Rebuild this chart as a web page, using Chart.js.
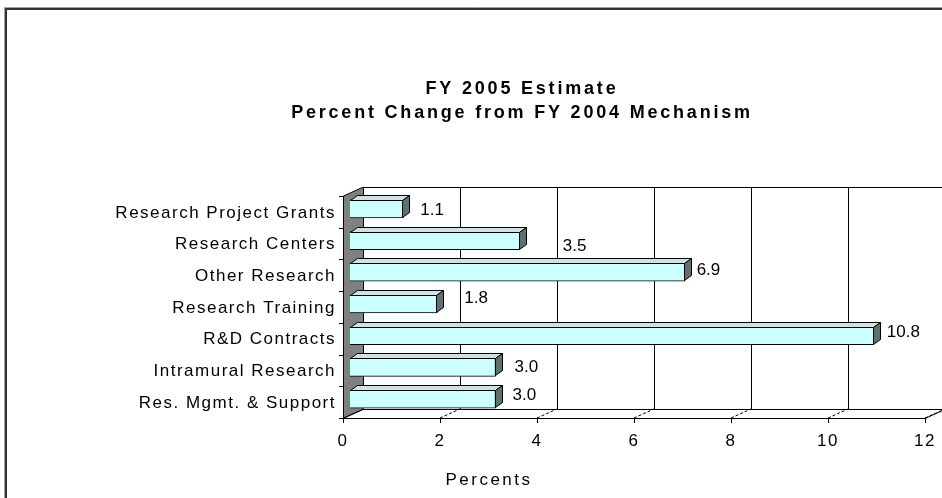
<!DOCTYPE html>
<html>
<head>
<meta charset="utf-8">
<script src="https://cdn.jsdelivr.net/npm/chart.js@4.4.1/dist/chart.umd.min.js"></script>
<style>
html, body { margin: 0; padding: 0; background: #fff; }
#chart { display: block; }
</style>
</head>
<body>
<canvas id="chart" width="942" height="498"></canvas>
<script>
const categories = ['Research Project Grants', 'Research Centers', 'Other Research', 'Research Training', 'R&D Contracts', 'Intramural Research', 'Res. Mgmt. & Support'];
const percentChange = [1.1, 3.5, 6.9, 1.8, 10.8, 3.0, 3.0];
const xTicks = [0, 2, 4, 6, 8, 10, 12];
const titleLines = ['FY 2005 Estimate', 'Percent Change from FY 2004 Mechanism'];
const axisTitle = 'Percents';

// Excel placed the value labels a bit loosely, nudge them the same way (px)
const labelNudgeX = [17, 43, 12, 27, 13, 19, 17];
const labelNudgeY = [1, 6, -2, -6, -3, 0, -4];

const FONT = "'Liberation Sans', Arial, sans-serif";
const FRONT = { dx: -7, dy: 3 };   // front plane relative to bar plane
const BACK = { dx: 13, dy: -6 };   // back wall relative to bar plane
const DEPTH = { dx: 7, dy: -5 };   // depth of each bar

const crisp = v => Math.round(v) + 0.5;

function poly(ctx, pts, fill) {
    ctx.beginPath();
    pts.forEach((p, i) => i ? ctx.lineTo(p[0], p[1]) : ctx.moveTo(p[0], p[1]));
    ctx.closePath();
    if (fill) { ctx.fillStyle = fill; ctx.fill(); }
    ctx.stroke();
}

const spacing = {
    id: 'spacing',
    beforeUpdate(chart) { chart.ctx.letterSpacing = '1.5px'; },
    beforeDraw(chart) { chart.ctx.letterSpacing = '1.5px'; }
};

const frame = {
    id: 'frame',
    beforeDraw(chart) {
        const { ctx, width, height } = chart;
        ctx.save();
        ctx.fillStyle = '#fff';
        ctx.fillRect(0, 0, width, height);
        ctx.lineWidth = 1;
        ctx.strokeStyle = '#a0a0a0';
        ctx.beginPath();
        ctx.moveTo(4.5, height); ctx.lineTo(4.5, 7.5); ctx.lineTo(width, 7.5);
        ctx.stroke();
        ctx.lineWidth = 2;
        ctx.strokeStyle = '#333';
        ctx.beginPath();
        ctx.moveTo(6, height); ctx.lineTo(6, 9); ctx.lineTo(width, 9);
        ctx.stroke();
        ctx.restore();
    }
};

const walls = {
    id: 'walls',
    beforeDatasetsDraw(chart) {
        const { ctx, chartArea: a } = chart;
        const x = chart.scales.x, y = chart.scales.y;
        const x0 = x.getPixelForValue(xTicks[0]);
        const x1 = x.getPixelForValue(xTicks[xTicks.length - 1]);
        const t = a.top, b = a.bottom;
        ctx.save();
        ctx.letterSpacing = '0px';
        ctx.lineWidth = 1;
        ctx.strokeStyle = '#000';
        // floor
        poly(ctx, [[x0 + FRONT.dx, crisp(b + FRONT.dy)], [x1 + FRONT.dx, crisp(b + FRONT.dy)],
                   [x1 + BACK.dx, crisp(b + BACK.dy)], [x0 + BACK.dx, crisp(b + BACK.dy)]], '#fff');
        // back wall grid
        ctx.beginPath();
        ctx.moveTo(x0 + BACK.dx, crisp(t + BACK.dy));
        ctx.lineTo(x1 + BACK.dx, crisp(t + BACK.dy));
        xTicks.forEach(v => {
            const px = crisp(x.getPixelForValue(v) + BACK.dx);
            ctx.moveTo(px, t + BACK.dy);
            ctx.lineTo(px, b + BACK.dy);
        });
        ctx.stroke();
        // floor grid diagonals
        ctx.setLineDash([3, 2]);
        ctx.beginPath();
        xTicks.forEach(v => {
            const px = x.getPixelForValue(v);
            ctx.moveTo(px + FRONT.dx, b + FRONT.dy);
            ctx.lineTo(px + BACK.dx, b + BACK.dy);
        });
        ctx.stroke();
        ctx.setLineDash([]);
        // left wall
        poly(ctx, [[crisp(x0 + FRONT.dx), t + FRONT.dy], [crisp(x0 + BACK.dx), t + BACK.dy],
                   [crisp(x0 + BACK.dx), b + BACK.dy], [crisp(x0 + FRONT.dx), b + FRONT.dy]], '#808080');
        // front axis line + ticks
        ctx.beginPath();
        ctx.moveTo(x0 + FRONT.dx, crisp(b + FRONT.dy));
        ctx.lineTo(x1 + FRONT.dx, crisp(b + FRONT.dy));
        xTicks.forEach(v => {
            const px = crisp(x.getPixelForValue(v) + FRONT.dx);
            ctx.moveTo(px, b + FRONT.dy);
            ctx.lineTo(px, b + FRONT.dy + 5);
        });
        // category ticks on the front left edge
        for (let i = 0; i <= categories.length; i++) {
            const py = crisp(y.getPixelForValue(i - 0.5) + FRONT.dy);
            ctx.moveTo(x0 + FRONT.dx - 4, py);
            ctx.lineTo(x0 + FRONT.dx, py);
        }
        ctx.stroke();
        ctx.restore();
    }
};

const bars3d = {
    id: 'bars3d',
    afterDatasetsDraw(chart) {
        const { ctx } = chart;
        const meta = chart.getDatasetMeta(0);
        ctx.save();
        ctx.letterSpacing = '0px';
        ctx.lineWidth = 1;
        ctx.strokeStyle = '#000';
        meta.data.forEach((bar, i) => {
            const p = bar.getProps(['x', 'y', 'base', 'height'], true);
            const top = Math.round(p.y - p.height / 2) + 0.5;
            const bot = Math.round(p.y + p.height / 2) - 0.5;
            const xe = Math.round(p.x) - 0.5, xb = Math.round(p.base) + 0.5;
            poly(ctx, [[xb, top], [xe, top], [xe + DEPTH.dx, top + DEPTH.dy], [xb + DEPTH.dx, top + DEPTH.dy]], '#cfe2e2');
            poly(ctx, [[xe, top], [xe + DEPTH.dx, top + DEPTH.dy], [xe + DEPTH.dx, bot + DEPTH.dy], [xe, bot]], '#5e7070');
            ctx.fillStyle = '#000';
            ctx.font = '17px ' + FONT;
            ctx.textAlign = 'left';
            ctx.textBaseline = 'middle';
            ctx.fillText(percentChange[i].toFixed(1), p.x + labelNudgeX[i], p.y + labelNudgeY[i]);
        });
        ctx.restore();
    }
};

const texts = {
    id: 'texts',
    afterDraw(chart) {
        const { ctx } = chart;
        ctx.save();
        ctx.fillStyle = '#000';
        ctx.textAlign = 'center';
        ctx.textBaseline = 'middle';
        ctx.font = 'bold 18px ' + FONT;
        ctx.letterSpacing = '2.8px';
        ctx.fillText(titleLines[0], 522, 89);
        ctx.fillText(titleLines[1], 522, 113);
        ctx.font = '17px ' + FONT;
        ctx.letterSpacing = '2.5px';
        ctx.fillText(axisTitle, 489, 480);
        ctx.restore();
    }
};

new Chart(document.getElementById('chart'), {
    type: 'bar',
    data: {
        labels: categories,
        datasets: [{
            data: percentChange,
            backgroundColor: '#ccffff',
            borderColor: '#000',
            borderWidth: 1,
            barThickness: 18
        }]
    },
    options: {
        indexAxis: 'y',
        responsive: false,
        animation: false,
        layout: { padding: { top: 193, right: 10, left: 0, bottom: 0 } },
        plugins: { legend: { display: false }, tooltip: { enabled: false } },
        scales: {
            x: {
                min: xTicks[0],
                max: xTicks[xTicks.length - 1],
                grid: { display: false, drawTicks: false },
                border: { display: false },
                afterBuildTicks: s => { s.ticks = xTicks.map(v => ({ value: v })); },
                afterFit: s => { s.height = 83; s.paddingLeft = 0; s.paddingRight = 0; },
                ticks: { padding: 16, labelOffset: -7, color: '#000', font: { family: FONT, size: 17 } }
            },
            y: {
                grid: { display: false, drawTicks: false },
                border: { display: false },
                afterFit: s => { s.width = 350; s.paddingTop = 0; s.paddingBottom = 0; },
                ticks: { padding: 14, labelOffset: 4, color: '#000', font: { family: FONT, size: 17 } }
            }
        }
    },
    plugins: [spacing, frame, walls, bars3d, texts]
});
</script>
</body>
</html>
